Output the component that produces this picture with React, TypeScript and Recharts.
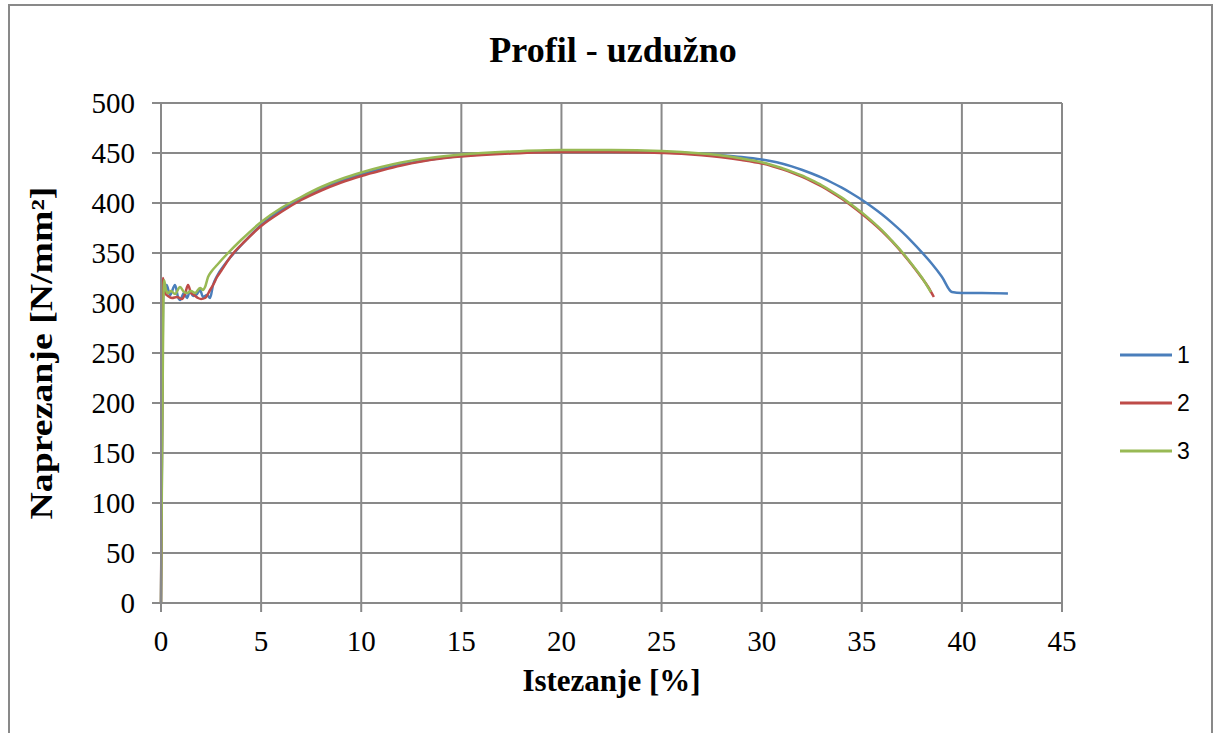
import { CartesianGrid, Label, Legend, Line, LineChart, XAxis, YAxis } from 'recharts';

// istezanje [%] / naprezanje [N/mm2] za tri uzorka
const uzorak1 = [
  { x: 0, y: 0 }, { x: 0.05, y: 150 }, { x: 0.12, y: 318 }, { x: 0.2, y: 312 },
  { x: 0.28, y: 318 }, { x: 0.45, y: 308 }, { x: 0.7, y: 318 }, { x: 0.85, y: 306 },
  { x: 0.95, y: 303 }, { x: 1.15, y: 310 }, { x: 1.3, y: 305 }, { x: 1.45, y: 312 },
  { x: 1.6, y: 307 }, { x: 1.8, y: 309 }, { x: 1.95, y: 313 }, { x: 2.1, y: 306 },
  { x: 2.3, y: 308 }, { x: 2.45, y: 305 }, { x: 2.6, y: 318 }, { x: 2.8, y: 327 },
  { x: 3.2, y: 339 }, { x: 3.7, y: 351 }, { x: 4.3, y: 364 }, { x: 5, y: 378 },
  { x: 6, y: 393 }, { x: 7, y: 405 }, { x: 8, y: 414.5 }, { x: 9, y: 422 },
  { x: 10, y: 428.5 }, { x: 11, y: 434 }, { x: 12, y: 438.5 }, { x: 13, y: 442 },
  { x: 14, y: 445 }, { x: 15, y: 447 }, { x: 17.5, y: 450.5 }, { x: 20, y: 452 },
  { x: 22.5, y: 452 }, { x: 25, y: 451 }, { x: 26, y: 450.3 }, { x: 27, y: 449.2 },
  { x: 28, y: 447.8 }, { x: 29, y: 446 }, { x: 30, y: 443.5 }, { x: 30.5, y: 441.8 },
  { x: 31, y: 439.5 }, { x: 31.5, y: 436.6 }, { x: 32, y: 433.3 }, { x: 32.5, y: 429.5 },
  { x: 33, y: 425.3 }, { x: 33.5, y: 420.5 }, { x: 34, y: 415.3 }, { x: 34.5, y: 409.5 },
  { x: 35, y: 403.2 }, { x: 35.5, y: 396.2 }, { x: 36, y: 388.7 }, { x: 36.5, y: 380.4 },
  { x: 37, y: 371.3 }, { x: 37.5, y: 361.4 }, { x: 38, y: 350.7 }, { x: 38.5, y: 339.3 },
  { x: 39, y: 326.3 }, { x: 39.5, y: 311 }, { x: 40, y: 310 }, { x: 41, y: 310 },
  { x: 42.3, y: 309.5 },
];

const uzorak2 = [
  { x: 0, y: 0 }, { x: 0.05, y: 170 }, { x: 0.1, y: 325 }, { x: 0.2, y: 310 },
  { x: 0.35, y: 307 }, { x: 0.55, y: 305 }, { x: 0.8, y: 306 }, { x: 1.05, y: 304 },
  { x: 1.2, y: 309 }, { x: 1.35, y: 318 }, { x: 1.5, y: 310 }, { x: 1.65, y: 308 },
  { x: 1.85, y: 305 }, { x: 2.0, y: 304 }, { x: 2.2, y: 305 }, { x: 2.45, y: 313 },
  { x: 2.6, y: 318 }, { x: 2.8, y: 326 }, { x: 3.0, y: 332 }, { x: 3.5, y: 347 },
  { x: 4.2, y: 362 }, { x: 5, y: 377 }, { x: 6, y: 391 }, { x: 7, y: 403 },
  { x: 8, y: 412.5 }, { x: 9, y: 420.5 }, { x: 10, y: 427 }, { x: 11, y: 432.5 },
  { x: 12, y: 437.5 }, { x: 13, y: 441.5 }, { x: 14, y: 444.5 }, { x: 15, y: 446.5 },
  { x: 17.5, y: 449.5 }, { x: 20, y: 451 }, { x: 22.5, y: 451 }, { x: 25, y: 450 },
  { x: 26, y: 449.2 }, { x: 27, y: 447.8 }, { x: 28, y: 445.8 }, { x: 29, y: 443 },
  { x: 30, y: 439.5 }, { x: 30.5, y: 437 }, { x: 31, y: 434 }, { x: 31.5, y: 430.5 },
  { x: 32, y: 426.3 }, { x: 32.5, y: 421.7 }, { x: 33, y: 416.5 }, { x: 33.5, y: 410.6 },
  { x: 34, y: 404.2 }, { x: 34.5, y: 397 }, { x: 35, y: 389.3 }, { x: 35.5, y: 381 },
  { x: 36, y: 372 }, { x: 36.5, y: 361.8 }, { x: 37, y: 350.5 }, { x: 37.5, y: 338.3 },
  { x: 38, y: 325 }, { x: 38.3, y: 316.5 }, { x: 38.6, y: 306 },
];

const uzorak3 = [
  { x: 0, y: 0 }, { x: 0.06, y: 160 }, { x: 0.15, y: 323 }, { x: 0.25, y: 313 },
  { x: 0.35, y: 310 }, { x: 0.5, y: 312 }, { x: 0.7, y: 309 }, { x: 0.95, y: 316 },
  { x: 1.15, y: 311 }, { x: 1.3, y: 310 }, { x: 1.5, y: 312 }, { x: 1.7, y: 310 },
  { x: 1.95, y: 315 }, { x: 2.1, y: 313 }, { x: 2.2, y: 316 }, { x: 2.35, y: 326 },
  { x: 2.5, y: 331 }, { x: 2.8, y: 338 }, { x: 3.3, y: 349 }, { x: 4, y: 363 },
  { x: 5, y: 381 }, { x: 6, y: 395 }, { x: 7, y: 406 }, { x: 8, y: 416 },
  { x: 9, y: 424 }, { x: 10, y: 430.5 }, { x: 11, y: 436 }, { x: 12, y: 440.5 },
  { x: 13, y: 444 }, { x: 14, y: 446.5 }, { x: 15, y: 448.5 }, { x: 17.5, y: 451.5 },
  { x: 20, y: 453 }, { x: 22.5, y: 453 }, { x: 25, y: 452 }, { x: 26, y: 451 },
  { x: 27, y: 449.5 }, { x: 28, y: 447.5 }, { x: 29, y: 444.5 }, { x: 30, y: 440.7 },
  { x: 30.5, y: 438 }, { x: 31, y: 435 }, { x: 31.5, y: 431.4 }, { x: 32, y: 427.5 },
  { x: 32.5, y: 422.8 }, { x: 33, y: 417.7 }, { x: 33.5, y: 411.8 }, { x: 34, y: 405.4 },
  { x: 34.5, y: 398.2 }, { x: 35, y: 390.6 }, { x: 35.5, y: 382 }, { x: 36, y: 372.8 },
  { x: 36.5, y: 362.3 }, { x: 37, y: 351.3 }, { x: 37.5, y: 338.7 }, { x: 38, y: 325.5 },
  { x: 38.45, y: 311 },
];

const xTicks = [0, 5, 10, 15, 20, 25, 30, 35, 40, 45];
const yTicks = [0, 50, 100, 150, 200, 250, 300, 350, 400, 450, 500];

const serije = [
  { name: '1', data: uzorak1, color: '#4a7ebb' },
  { name: '2', data: uzorak2, color: '#be4b48' },
  { name: '3', data: uzorak3, color: '#98b954' },
];

const serif = 'Liberation Serif';
const gridColor = '#898989';
const tickStyle = { fontFamily: serif, fontSize: 29, fill: '#000' };

function XTick({ x, y, payload }: any) {
  return (
    <text x={x} y={y} dy={21} textAnchor="middle" style={tickStyle}>
      {payload.value}
    </text>
  );
}

function YTick({ x, y, payload }: any) {
  return (
    <text x={x} y={y} dy={10} textAnchor="end" style={tickStyle}>
      {payload.value}
    </text>
  );
}

function Legenda() {
  return (
    <div style={{ fontFamily: 'Liberation Sans', fontSize: 23 }}>
      {serije.map((s) => (
        <div key={s.name} style={{ height: 48, display: 'flex', alignItems: 'center' }}>
          <svg width={62} height={6} style={{ display: 'block' }}>
            <line x1={10} y1={3} x2={62} y2={3} stroke={s.color} strokeWidth={3} />
          </svg>
          <span style={{ marginLeft: 5, lineHeight: 1 }}>{s.name}</span>
        </div>
      ))}
    </div>
  );
}

export default function App() {
  return (
    <div style={{ position: 'absolute', left: 0, top: 0, width: 1214, height: 733, overflow: 'hidden', background: '#fff', fontFamily: serif }}>
      <div
        style={{
          position: 'absolute', left: 8, top: 4, width: 1205, height: 760,
          borderTop: `2px solid ${gridColor}`, borderLeft: `2px solid ${gridColor}`, borderRight: `2px solid ${gridColor}`,
          boxSizing: 'border-box',
        }}
      />
      <div
        style={{
          position: 'absolute', left: 0, top: 32, width: 1226, textAlign: 'center',
          fontFamily: serif, fontWeight: 'bold', fontSize: 36, lineHeight: 1,
        }}
      >
        Profil - uzdužno
      </div>
      <div style={{ position: 'absolute', left: 0, top: 0 }}>
        <LineChart width={1214} height={733} margin={{ top: 103, right: 152, bottom: 90, left: 0 }} style={{ fontFamily: serif }}>
          <CartesianGrid stroke={gridColor} strokeWidth={2} />
          <XAxis
            type="number"
            dataKey="x"
            domain={[0, 45]}
            ticks={xTicks}
            height={40}
            tickSize={9}
            tickMargin={18}
            stroke={gridColor}
            strokeWidth={2}
            tick={<XTick />}
          >
            <Label
              content={({ viewBox }: any) => (
                <text
                  x={viewBox.x + viewBox.width / 2}
                  y={691}
                  textAnchor="middle"
                  style={{ fontFamily: serif, fontWeight: 'bold', fontSize: 31, fill: '#000' }}
                >
                  Istezanje [%]
                </text>
              )}
            />
          </XAxis>
          <YAxis
            type="number"
            dataKey="y"
            domain={[0, 500]}
            ticks={yTicks}
            width={161}
            tickSize={9}
            tickMargin={17}
            stroke={gridColor}
            strokeWidth={2}
            tick={<YTick />}
          >
            <Label
              content={({ viewBox }: any) => {
                const cy = viewBox.y + viewBox.height / 2;
                return (
                  <text
                    x={0}
                    y={0}
                    transform={`translate(41, ${cy}) rotate(-90) scale(1.22, 1)`}
                    textAnchor="middle"
                    dominantBaseline="central"
                    style={{ fontFamily: serif, fontWeight: 'bold', fontSize: 31, fill: '#000' }}
                  >
                    Naprezanje [N/mm²]
                  </text>
                );
              }}
            />
          </YAxis>
          <Legend
            layout="vertical"
            align="center"
            verticalAlign="middle"
            content={() => <Legenda />}
            wrapperStyle={{ left: 1110, top: 331, width: 100, height: 144 }}
          />
          {serije.map((s) => (
            <Line
              key={s.name}
              name={s.name}
              data={s.data}
              dataKey="y"
              type="monotone"
              stroke={s.color}
              strokeWidth={2.5}
              dot={false}
              activeDot={false}
              isAnimationActive={false}
            />
          ))}
        </LineChart>
      </div>
    </div>
  );
}
